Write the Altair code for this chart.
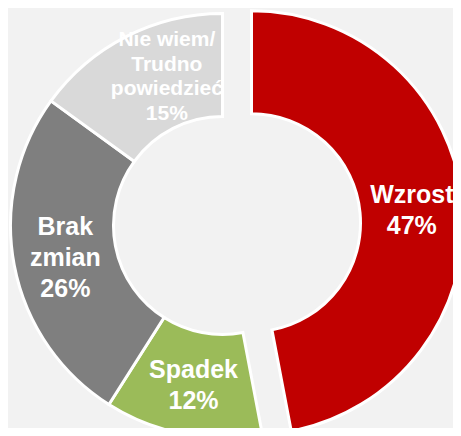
import altair as alt
import pandas as pd

categories = ["Wzrost", "Spadek", "Brak zmian", "Nie wiem/Trudno powiedzieć"]
label_lines = [["Wzrost"], ["Spadek"], ["Brak", "zmian"], ["Nie wiem/", "Trudno", "powiedzieć"]]
values = [47, 12, 26, 15]
colors = ["#C00000", "#9BBB59", "#7F7F7F", "#D9D9D9"]

df = pd.DataFrame({
    "cat": categories,
    "value": values,
    "order": list(range(len(categories))),
    "label": ["\n".join(l + [f"{v}%"]) for l, v in zip(label_lines, values)],
})

CX, CY = 214.5, 217.5
EX, EY = CX + 29, CY - 2.7
FONT = "Liberation Sans"

base = alt.Chart(df).encode(
    theta=alt.Theta("value:Q", stack=True),
    order=alt.Order("order:Q"),
)

is_w = alt.datum.cat == "Wzrost"

arcs_main = base.mark_arc(innerRadius=109, outerRadius=212, stroke="white", strokeWidth=3).encode(
    color=alt.Color("cat:N", scale=alt.Scale(domain=categories, range=colors), legend=None),
    x=alt.value(CX), y=alt.value(CY),
    opacity=alt.when(is_w).then(alt.value(0)).otherwise(alt.value(1)),
)
arc_exp = base.mark_arc(innerRadius=109, outerRadius=212, stroke="white", strokeWidth=3).encode(
    color=alt.Color("cat:N", scale=alt.Scale(domain=categories, range=colors), legend=None),
    x=alt.value(EX), y=alt.value(EY),
    opacity=alt.when(is_w).then(alt.value(1)).otherwise(alt.value(0)),
)


def label_layer(cat, cx, cy, size, lh, xoff=0, yoff=0):
    n = len(label_lines[categories.index(cat)]) + 1
    return base.mark_text(
        radius=160, font=FONT, fontWeight="bold", fontSize=size, lineHeight=lh,
        lineBreak="\n", color="white", align="center", baseline="middle",
        xOffset=xoff, yOffset=yoff - (n - 1) * lh / 2,
    ).encode(
        x=alt.value(cx), y=alt.value(cy), text="label:N",
        opacity=alt.when(alt.datum.cat == cat).then(alt.value(1)).otherwise(alt.value(0)),
    )


txt_w = label_layer("Wzrost", EX, EY, 25, 31, xoff=1, yoff=2.5)
txt_s = label_layer("Spadek", CX, CY, 25, 31, xoff=1, yoff=2.5)
txt_b = label_layer("Brak zmian", CX, CY, 25, 31, yoff=2.5)
txt_n = label_layer("Nie wiem/Trudno powiedzieć", CX, CY, 21, 24.5, xoff=17, yoff=-6)

chart = alt.layer(arcs_main, arc_exp, txt_w, txt_s, txt_b, txt_n).properties(
    width=445, height=420,
    autosize=alt.AutoSizeParams(type="none"),
    padding=0,
    background="#F2F2F2",
).configure_view(stroke=None)

chart.save("out.html", embed_options={"renderer": "svg", "actions": False})
